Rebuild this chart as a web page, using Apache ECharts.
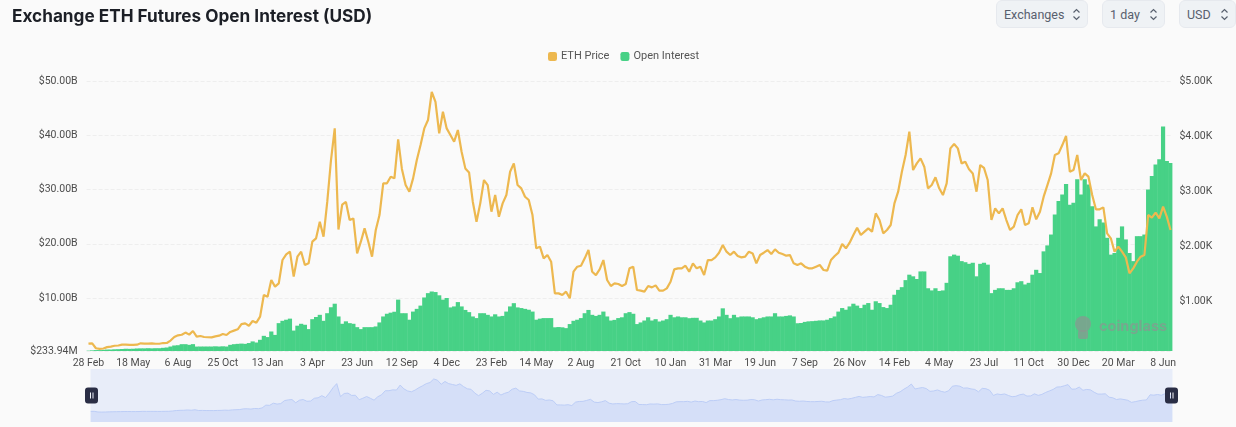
<!DOCTYPE html>
<html>
<head>
<meta charset="utf-8">
<title>Exchange ETH Futures Open Interest (USD)</title>
<script src="https://cdn.jsdelivr.net/npm/echarts@6/dist/echarts.min.js"></script>
<style>
  html, body { margin: 0; padding: 0; background: #fafafa; }
  #main { position: absolute; left: 0; top: 0; width: 1236px; height: 427px; }
  .btn {
    position: absolute; top: 0; height: 28px; box-sizing: border-box;
    background: #eff2f5; border: 1px solid #e6e9ee; border-radius: 6px;
    font: 12.5px/27px Roboto, sans-serif; color: #58606e; padding-left: 7px;
  }
  .btn svg { position: absolute; top: 7px; right: 6px; }
</style>
</head>
<body>
<div id="main"></div>
<div class="btn" style="left:996px;width:92px">Exchanges<svg width="9" height="13" viewBox="0 0 9 13" fill="none" stroke="#58606e" stroke-width="1.2"><path d="M1.5 4.5 4.5 1.5 7.5 4.5M1.5 8.5 4.5 11.5 7.5 8.5"/></svg></div>
<div class="btn" style="left:1102px;width:63px">1 day<svg width="9" height="13" viewBox="0 0 9 13" fill="none" stroke="#58606e" stroke-width="1.2"><path d="M1.5 4.5 4.5 1.5 7.5 4.5M1.5 8.5 4.5 11.5 7.5 8.5"/></svg></div>
<div class="btn" style="left:1179px;width:57px">USD<svg width="9" height="13" viewBox="0 0 9 13" fill="none" stroke="#58606e" stroke-width="1.2"><path d="M1.5 4.5 4.5 1.5 7.5 4.5M1.5 8.5 4.5 11.5 7.5 8.5"/></svg></div>
<script>
// one tick label every 12 samples
const tickLabels = ['28 Feb','18 May','6 Aug','25 Oct','13 Jan','3 Apr','23 Jun','12 Sep','4 Dec','23 Feb','14 May','2 Aug','21 Oct','10 Jan','31 Mar','19 Jun','7 Sep','26 Nov','14 Feb','4 May','23 Jul','11 Oct','30 Dec','20 Mar','8 Jun'];

// ETH price, USD
const ethPrice = [
  225,230,140,130,135,160,170,185,190,205,205,200,
  200,205,230,225,225,228,222,222,235,236,280,345,
  375,385,425,388,454,350,363,345,340,338,357,369,
  400,381,436,460,484,580,593,550,636,605,715,1108,
  1078,1381,1260,1320,1745,1848,1896,1442,1805,1896,1654,1684,
  2078,2139,2442,2169,2805,3563,4140,2300,2750,2800,2472,2500,
  1866,2078,2320,2078,1805,2290,2563,3139,3139,3260,3230,3938,
  3400,3108,2987,3229,3562,3835,4138,4290,4800,4620,4047,4441,
  4138,4017,3896,4108,3714,3411,3338,2805,2441,2775,3199,3108,
  2623,2926,2532,2775,2926,3350,3502,3108,3047,2896,2835,2563,
  1957,1987,1775,1835,1714,1138,1138,1108,1169,1048,1532,1623,
  1641,1775,1926,1532,1471,1575,1744,1381,1272,1320,1308,1272,
  1308,1593,1623,1199,1187,1169,1272,1247,1284,1187,1187,1229,
  1350,1575,1593,1593,1641,1532,1684,1593,1623,1471,1744,1744,
  1793,1877,2017,1896,1835,1896,1817,1793,1805,1896,1865,1684,
  1835,1877,1926,1853,1938,1877,1853,1823,1835,1684,1653,1684,
  1624,1593,1593,1624,1654,1563,1551,1745,1818,1878,2036,1957,
  2060,2199,2333,2199,2260,2320,2260,2593,2472,2230,2290,2381,
  2775,2987,3351,3654,4080,3381,3502,3593,3442,3048,3108,3248,
  3048,2926,3139,3775,3854,3775,3502,3532,3393,3320,2987,3472,
  3420,3199,2472,2684,2593,2684,2472,2290,2351,2563,2666,2381,
  2411,2702,2484,2623,2896,3108,3320,3654,3684,3835,4000,3351,
  3381,3654,3199,3320,3260,2926,2666,2666,2702,2230,2139,1896,
  1987,1896,1793,1502,1593,1714,1805,1836,2563,2514,2605,2502,
  2714,2533,2290
];

// open interest, billion USD
const openInterest = [
  0.3,0.35,0.4,0.4,0.45,0.5,0.5,0.55,0.57,0.6,0.65,0.63,
  0.65,0.7,0.72,0.72,0.75,0.72,0.75,0.75,0.82,0.88,1.06,1.25,
  1.3,1.49,1.49,1.37,1.5,1.05,1.06,1.06,1.06,1.06,1.1,1.06,
  1.1,1.06,1.37,1.49,1.55,1.6,1.55,1.7,2.0,1.8,2.3,3.03,
  2.8,3.83,3.2,5.37,5.8,6.0,6.2,4.0,4.9,5.25,5.07,4.27,
  6.1,6.5,6.9,5.8,7.2,8.3,8.95,6.6,5.25,5.7,5.37,5.25,
  4.63,4.27,4.63,4.63,4.63,4.76,5.5,6.6,7.1,7.3,7.47,9.7,
  7.2,7.2,6.0,7.5,8.0,8.6,10.1,10.9,11.2,11.1,10.5,9.7,
  10.0,8.27,8.45,9.25,8.45,7.8,7.4,6.6,6.3,7.2,7.2,6.9,
  6.6,7.0,6.6,6.7,7.5,8.45,9.05,8.27,8.15,8.0,7.84,7.5,
  6.0,6.2,6.3,6.3,6.3,4.6,4.65,4.6,4.45,5.2,5.8,6.0,
  6.3,7.2,7.8,6.9,6.7,6.9,7.5,6.6,5.85,5.97,6.3,6.45,
  7.2,7.4,7.1,5.2,5.5,5.85,6.45,5.85,6.1,5.67,5.85,6.1,
  6.9,6.45,6.6,6.45,6.45,6.28,6.35,6.35,5.85,5.5,5.85,5.85,
  6.1,6.6,8.1,6.9,6.28,6.9,6.45,6.6,6.6,6.6,6.45,6.1,
  6.28,6.45,6.6,6.6,7.2,6.6,6.6,6.7,6.8,6.6,5.35,5.4,
  5.6,5.7,5.74,5.8,5.87,5.87,6.0,6.3,6.6,7.5,8.15,7.84,
  8.45,8.95,8.6,8.15,8.76,9.07,7.84,9.4,9.07,8.33,8.15,8.76,
  10.6,11.5,12,13.3,14.3,14,13.5,14.9,14.9,11.8,11.4,11.8,
  11.3,11.4,12.8,17.7,18,17.8,16.8,16.6,16.3,16.5,14,16.3,
  16.5,16.15,10.9,11.5,11.8,11.8,11.5,11.5,11.8,12.9,13.1,12.5,
  12.8,14.3,15.2,14.6,18.6,19.7,21.7,25.4,27.9,29.1,31,27.2,
  27.55,31.9,29.1,31.9,30.9,26.9,23.2,24.5,23.9,21.1,18,18.3,
  21.1,23.2,20.8,18.3,16.8,21.4,21.4,21.7,30,32.5,34.6,35.6,
  41.6,35.25,34.9
];

const leftTicks = [0.23394, 10, 20, 30, 40, 50];
const rightTicks = [1000, 2000, 3000, 4000, 5000];

const categories = ethPrice.map((v, i) => (i % 12 === 0 ? tickLabels[i / 12] : ''));

const labelFont = { fontFamily: 'Roboto, sans-serif', fontSize: 10.5, color: '#4d4d4d' };
const watermark = 'rgba(140,150,145,0.7)';

const chart = echarts.init(document.getElementById('main'));
chart.setOption({
  animation: false,
  backgroundColor: '#fafafa',
  title: {
    text: 'Exchange ETH Futures Open Interest (USD)',
    left: 7, top: 3,
    textStyle: { fontFamily: 'Inter, sans-serif', fontSize: 17.2, fontWeight: 700, color: '#1c1f26' }
  },
  legend: {
    data: ['ETH Price', 'Open Interest'],
    top: 46, left: 543,
    itemWidth: 9, itemHeight: 9, itemGap: 11,
    icon: 'roundRect',
    textStyle: { fontFamily: 'Roboto, sans-serif', fontSize: 11, color: '#555', padding: [0, 0, 0, -1] }
  },
  grid: { left: 86.6, right: 63.6, top: 81, height: 270 },
  xAxis: {
    type: 'category',
    data: categories,
    boundaryGap: true,
    axisLine: { show: false },
    axisTick: { show: false },
    axisLabel: Object.assign({ interval: 11, margin: 7 }, labelFont)
  },
  yAxis: [
    {
      type: 'value',
      min: 0.23394, max: 50,
      axisLine: { show: false },
      axisTick: { show: false, customValues: leftTicks },
      axisLabel: Object.assign({
        customValues: leftTicks, margin: 9,
        formatter: v => (v < 1 ? '$' + (v * 1000).toFixed(2) + 'M' : '$' + v.toFixed(2) + 'B')
      }, labelFont),
      splitLine: { show: true, lineStyle: { color: '#eeeeee', type: 'dashed', width: 1 } }
    },
    {
      type: 'value',
      min: 90, max: 5000,
      axisLine: { show: false },
      axisTick: { show: false, customValues: rightTicks },
      axisLabel: Object.assign({
        customValues: rightTicks, margin: 7,
        formatter: v => '$' + (v / 1000).toFixed(2) + 'K'
      }, labelFont),
      splitLine: { show: false }
    }
  ],
  dataZoom: [{
    type: 'slider',
    xAxisIndex: 0,
    left: 88, right: 66, top: 369, height: 53,
    start: 0, end: 100,
    showDetail: false,
    brushSelect: false,
    moveHandleSize: 0,
    borderColor: 'transparent',
    backgroundColor: '#e8edf9',
    fillerColor: 'transparent',
    dataBackground: {
      lineStyle: { color: '#bccdf6', width: 1, opacity: 1 },
      areaStyle: { color: '#d5dff8', opacity: 1 }
    },
    selectedDataBackground: {
      lineStyle: { color: '#bccdf6', width: 1, opacity: 1 },
      areaStyle: { color: '#d5dff8', opacity: 1 }
    },
    handleIcon: 'path://M3 0H10A3 3 0 0 1 13 3V13A3 3 0 0 1 10 16H3A3 3 0 0 1 0 13V3A3 3 0 0 1 3 0ZM5 5V11H6V5ZM7.5 5V11H8.5V5Z',
    handleSize: 16,
    handleStyle: { color: '#2a2e45', borderColor: '#2a2e45', borderWidth: 0, opacity: 1 }
  }],
  graphic: [
    {
      type: 'group', left: 1075, top: 316, silent: true, z: 10,
      children: [
        { type: 'circle', z: 10, shape: { cx: 10, cy: 7, r: 8 }, style: { fill: watermark } },
        { type: 'rect', z: 10, shape: { x: 5, y: 13, width: 10, height: 9, r: 2 }, style: { fill: watermark } }
      ]
    },
    {
      type: 'text', left: 1099, top: 319, silent: true, z: 10,
      style: { text: 'coinglass', font: '700 14.5px Inter, sans-serif', fill: watermark }
    }
  ],
  series: [
    {
      name: 'ETH Price',
      type: 'line',
      yAxisIndex: 1,
      data: ethPrice,
      symbol: 'none',
      z: 3,
      lineStyle: { color: '#edb84f', width: 2.2 },
      itemStyle: { color: '#edb84f' }
    },
    {
      name: 'Open Interest',
      type: 'bar',
      yAxisIndex: 0,
      data: openInterest,
      barWidth: 4.2,
      z: 2,
      itemStyle: { color: '#47d186' }
    }
  ]
});
</script>
</body>
</html>
